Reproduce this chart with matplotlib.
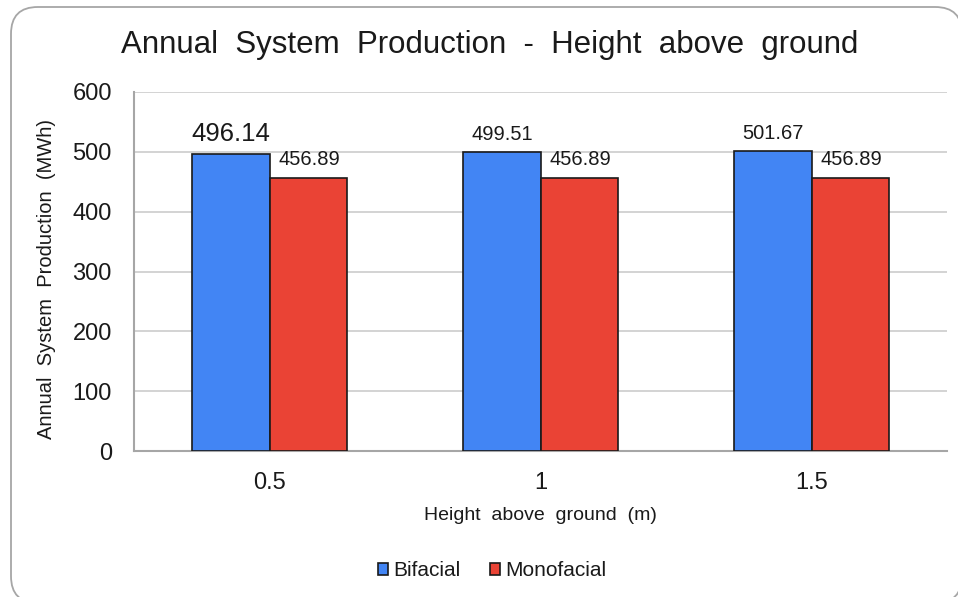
import matplotlib
matplotlib.use("Agg")
import matplotlib.pyplot as plt
from matplotlib.patches import FancyBboxPatch
import numpy as np

plt.rcParams['font.family'] = ['Liberation Sans', 'DejaVu Sans']

heights = ["0.5", "1", "1.5"]
bifacial = [496.14, 499.51, 501.67]
monofacial = [456.89, 456.89, 456.89]
bifacial_label_sizes = [18.5, 14.5, 14.5]
yticks = [0, 100, 200, 300, 400, 500, 600]

BLUE = "#4285F4"
RED = "#EA4335"
TXT = "#1a1a1a"

W, H = 958, 597
fig = plt.figure(figsize=(W / 100, H / 100), dpi=100)

# rounded outer frame (runs past the right and bottom edges)
x0, y0_top, x1, y1_bot = 11, 7, 962, 603
frame = FancyBboxPatch((x0 / W, 1 - y1_bot / H), (x1 - x0) / W, (y1_bot - y0_top) / H,
                       boxstyle="round,pad=0,rounding_size=0.028",
                       transform=fig.transFigure, facecolor="white",
                       edgecolor="#a6a6a6", linewidth=1.3, zorder=-1,
                       mutation_aspect=W / H)
fig.patches.append(frame)

ax = fig.add_axes([134 / W, (H - 451) / H, (947 - 134) / W, (451 - 92) / H])
ax.set_facecolor("none")

x = np.arange(len(heights))
w = 0.285
b1 = ax.bar(x - w / 2, bifacial, w, color=BLUE, edgecolor="#1a1a1a", linewidth=1.2, zorder=3)
b2 = ax.bar(x + w / 2, monofacial, w, color=RED, edgecolor="#1a1a1a", linewidth=1.2, zorder=3)

for rect, v, fs in zip(b1, bifacial, bifacial_label_sizes):
    ax.annotate(f"{v:.2f}", (rect.get_x() + rect.get_width() / 2, v),
                xytext=(0, 6), textcoords="offset points", ha="center", va="bottom",
                fontsize=fs, color=TXT)
for rect, v in zip(b2, monofacial):
    ax.annotate(f"{v:.2f}", (rect.get_x() + rect.get_width() / 2, v),
                xytext=(1, 6), textcoords="offset points", ha="center", va="bottom",
                fontsize=14.5, color=TXT)

ax.set_xlim(-0.5, len(heights) - 0.5)
ax.set_ylim(0, 600)
ax.set_yticks(yticks)
ax.set_yticklabels([str(t) for t in yticks], fontsize=17, color=TXT)
ax.set_xticks(x)
ax.set_xticklabels(heights, fontsize=17, color=TXT)
ax.tick_params(axis="both", length=0)
ax.tick_params(axis="y", pad=16)
ax.tick_params(axis="x", pad=15)

ax.grid(axis="y", color="#cccccc", linewidth=1.2, zorder=0)
ax.set_axisbelow(True)
for s in ["top", "right"]:
    ax.spines[s].set_visible(False)
for s in ["left", "bottom"]:
    ax.spines[s].set_color("#a6a6a6")
    ax.spines[s].set_linewidth(1.5)

fig.text(47 / W, 1 - 279 / H, "Annual  System  Production  (MWh)", rotation=90,
         ha="center", va="center", fontsize=14.5, color=TXT)
fig.text(540 / W, 1 - 516 / H, "Height  above  ground  (m)",
         ha="center", va="center", fontsize=14, color=TXT)

fig.text(490 / W, 1 - 45 / H, "Annual  System  Production  -  Height  above  ground",
         ha="center", va="center", fontsize=22.5, color=TXT)

leg = fig.legend([b1, b2], ["Bifacial", "Monofacial"], loc="center",
                 bbox_to_anchor=(492 / W, 1 - 571 / H), ncol=2, frameon=False,
                 fontsize=15, handlelength=0.5, handleheight=0.5,
                 handletextpad=0.25, columnspacing=1.4)
for t in leg.get_texts():
    t.set_color(TXT)

fig.savefig("out.png", dpi=100)
